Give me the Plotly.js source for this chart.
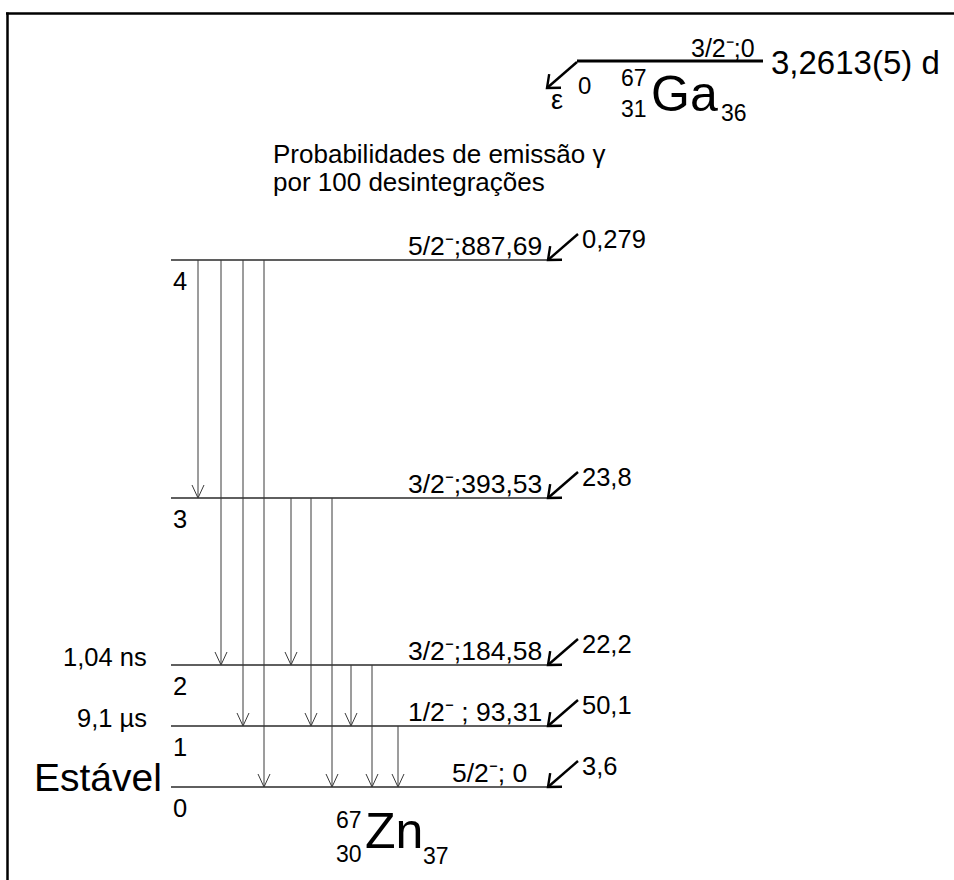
<!DOCTYPE html>
<html><head><meta charset="utf-8">
<script src="https://cdn.plot.ly/plotly-3.0.1.min.js"></script>
<style>html,body{margin:0;padding:0;background:#fff}#chart{width:954px;height:880px}</style>
</head><body><div id="chart"></div>
<script>
// ---------------- data ----------------
const levelIndex = [0, 1, 2, 3, 4];
const levelSpin = ['5/2-', '1/2-', '3/2-', '3/2-', '5/2-'];
const levelEnergyKeV = [0, 93.31, 184.58, 393.53, 887.69];
const levelSeparator = ['; ', ' ; ', ';', ';', ';'];
const feedingPer100 = [3.6, 50.1, 22.2, 23.8, 0.279];
const levelHalfLife = ['Estável', '9,1 µs', '1,04 ns', '', ''];
const gammaFrom = [4, 4, 4, 4, 3, 3, 3, 2, 2, 1];
const gammaTo   = [3, 2, 1, 0, 2, 1, 0, 1, 0, 0];
const parentNuclide = {A: 67, Z: 31, N: 36, sym: 'Ga'};
const daughterNuclide = {A: 67, Z: 30, N: 37, sym: 'Zn'};
const parentSpin = '3/2-';
const parentEnergyKeV = 0;
const parentHalfLife = '3,2613(5) d';
const decayMode = 'ε';
const decayModeQ = '0';
const captionLines = ['Probabilidades de emissão γ', 'por 100 desintegrações'];

// ---------------- layout (schematic positions) ----------------
const levelYPos = [787, 726, 665, 498, 260];
const gammaXPos = [198, 221, 243, 264, 291, 311, 332, 351, 372, 398];
const LX0 = 171, LX1 = 550;
const FONT = 'Liberation Sans, Arial, sans-serif';

const fmt = v => String(v).replace('.', ',');
const spinTxt = s => s.endsWith('-') ? s.slice(0, -1) + '\u207B' : s;

const traces = [];
// levels
const lx = [], ly = [];
levelIndex.forEach(i => { lx.push(LX0, LX1, null); ly.push(levelYPos[i], levelYPos[i], null); });
traces.push({x: lx, y: ly, mode: 'lines', line: {color: '#2a2a2a', width: 1.6}, hoverinfo: 'skip'});

// gamma transitions
const gx = [], gy = [];
gammaFrom.forEach((f, k) => {
  const x = gammaXPos[k], y0 = levelYPos[f], y1 = levelYPos[gammaTo[k]];
  gx.push(x, x, null, x - 6, x, x + 6, null);
  gy.push(y0, y1, null, y1 - 13, y1, y1 - 13, null);
});
traces.push({x: gx, y: gy, mode: 'lines', line: {color: '#3a3a3a', width: 1}, hoverinfo: 'skip'});

// feeding arrows (bold)
function feedArrow(tx, ty, arr) {
  const sx = tx + 30, sy = ty - 26;
  const ang = Math.atan2(sy - ty, sx - tx);
  const L = 14, spread = 0.7;
  arr.x.push(sx, tx, null,
    tx + L * Math.cos(ang + spread), tx, tx + L * Math.cos(ang - spread), null);
  arr.y.push(sy, ty, null,
    ty + L * Math.sin(ang + spread), ty, ty + L * Math.sin(ang - spread), null);
}
const fa = {x: [], y: []};
levelIndex.forEach(i => feedArrow(LX1 - 2, levelYPos[i], fa));
const PY = 61, PX0 = 577, PX1 = 763;
feedArrow(PX0 - 30, PY + 27, fa);
traces.push({x: fa.x, y: fa.y, mode: 'lines', line: {color: '#000', width: 2.4}, hoverinfo: 'skip'});

// parent level
traces.push({x: [PX0, PX1], y: [PY, PY], mode: 'lines', line: {color: '#000', width: 3}, hoverinfo: 'skip'});

// ---------------- annotations ----------------
const ann = [];
function t(text, x, y, size, xa) {
  ann.push({text, x, y, xref: 'x', yref: 'y', showarrow: false,
    xanchor: xa || 'left', yanchor: 'middle', font: {family: FONT, size, color: '#000'}});
}
levelIndex.forEach(i => {
  const y = levelYPos[i];
  t(spinTxt(levelSpin[i]) + levelSeparator[i] + fmt(levelEnergyKeV[i]), i === 0 ? 529 : 544, y - 14, 26.5, 'right');
  t(fmt(feedingPer100[i]), 580, y - 21, 25.5, 'left');
  t(String(i), 171, y + 21, 25.5, 'left');
});
t(levelHalfLife[2], 149, levelYPos[2] - 8, 25.5, 'right');
t(levelHalfLife[1], 149, levelYPos[1] - 8, 25.5, 'right');
t(levelHalfLife[0], 164, levelYPos[0] - 10, 39, 'right');

// parent
t(spinTxt(parentSpin) + ';' + fmt(parentEnergyKeV), 757, 48, 25, 'right');
t(parentHalfLife, 769, 62, 33, 'left');
t(decayMode, 557, 100, 27, 'center');
t(decayModeQ, 576, 85, 24, 'left');
t(String(parentNuclide.A), 649, 78, 23, 'right');
t(String(parentNuclide.Z), 649, 109, 23, 'right');
t(parentNuclide.sym, 649, 94, 50, 'left');
t(String(parentNuclide.N), 719, 113, 23, 'left');

// caption
t(captionLines[0], 271, 154, 26, 'left');
t(captionLines[1], 271, 182, 26, 'left');

// daughter
t(String(daughterNuclide.A), 364, 820, 23, 'right');
t(String(daughterNuclide.Z), 364, 854, 23, 'right');
t(daughterNuclide.sym, 363, 831, 50, 'left');
t(String(daughterNuclide.N), 421, 856, 23, 'left');

const layout = {
  width: 954, height: 880,
  margin: {l: 0, r: 0, t: 0, b: 0},
  paper_bgcolor: '#fff', plot_bgcolor: '#fff',
  showlegend: false,
  xaxis: {range: [0, 954], visible: false, fixedrange: true},
  yaxis: {range: [880, 0], visible: false, fixedrange: true},
  annotations: ann,
  shapes: [
    {type: 'line', xref: 'paper', yref: 'paper', x0: 6 / 954, x1: 1, y0: 1 - 13.5 / 880, y1: 1 - 13.5 / 880, line: {color: '#000', width: 2.5}},
    {type: 'line', xref: 'paper', yref: 'paper', x0: 7.5 / 954, x1: 7.5 / 954, y0: 0, y1: 1 - 12.5 / 880, line: {color: '#000', width: 2.5}}
  ]
};
Plotly.newPlot('chart', traces, layout, {displayModeBar: false, staticPlot: true});
</script></body></html>
